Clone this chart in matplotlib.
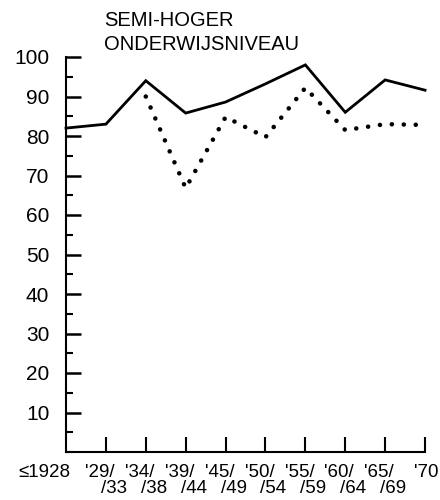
import numpy as np
import matplotlib
matplotlib.use('Agg')
from matplotlib import pyplot as plt
from matplotlib.ticker import MultipleLocator

# periods on the x axis (first line / second line of each label)
PERIOD_TOP = ['\u22641928', "'29/", "'34/", "'39/", "'45/", "'50/",
              "'55/", "'60/", "'65/", "'70"]
PERIOD_BOTTOM = ['', '/33', '/38', '/44', '/49', '/54', '/59', '/64', '/69', '']

# solid line
SOLID = [82, 83, 94, 85.8, 88.6, 93.2, 98, 86, 94.2, 91.6]
# dotted line (starts at '34/38)
DOTTED = [np.nan, np.nan, 90, 66.8, 84.8, 79.7, 92.2, 81.5, 83, 82.8]

plt.rcParams['font.family'] = ['Liberation Sans', 'DejaVu Sans']

fig = plt.figure(figsize=(4.4, 5.0), dpi=100)
ax = fig.add_axes([0.15, 0.096, 0.816, 0.79])

x = np.arange(len(SOLID))
ax.plot(x, SOLID, color='black', lw=2.0, solid_joinstyle='miter', clip_on=False)
ax.plot(x, DOTTED, color='black', lw=3.3, linestyle=(0, (0.01, 2.6)),
        dash_capstyle='round', clip_on=False)

ax.set_xlim(0, len(SOLID) - 1)
ax.set_ylim(0, 100)

for side in ['top', 'right']:
    ax.spines[side].set_visible(False)
for side in ['left', 'bottom']:
    ax.spines[side].set_linewidth(1.5)

ax.yaxis.set_minor_locator(MultipleLocator(5))
ax.set_yticks(range(10, 101, 10))
ax.tick_params(axis='y', which='major', direction='in', length=11, width=1.8,
               labelsize=15, pad=12)
ax.tick_params(axis='y', which='minor', direction='in', length=5, width=1.5)

ax.set_xticks(x[1:])
ax.set_xticklabels([])
ax.tick_params(axis='x', which='major', direction='in', length=11, width=1.5)

trans = ax.get_xaxis_transform()
fs = 13.5
for i, (top, bottom) in enumerate(zip(PERIOD_TOP, PERIOD_BOTTOM)):
    if i == 0:
        ax.text(i - 0.55, -0.03, top, transform=trans, ha='center', va='top',
                fontsize=fs, clip_on=False)
    elif i == len(PERIOD_TOP) - 1:
        fig.text(0.997, ax.get_position().y0 - 0.024, top, ha='right',
                 va='top', fontsize=fs)
    else:
        ax.text(i - 0.15, -0.03, top, transform=trans, ha='center', va='top',
                fontsize=fs, clip_on=False)
        ax.text(i + 0.2, -0.07, bottom, transform=trans, ha='center', va='top',
                fontsize=fs, clip_on=False)

fig.text(0.236, 0.978, 'SEMI-HOGER\nONDERWIJSNIVEAU', ha='left', va='top',
         fontsize=14.5, linespacing=1.35)

fig.savefig('out.png', dpi=100)
